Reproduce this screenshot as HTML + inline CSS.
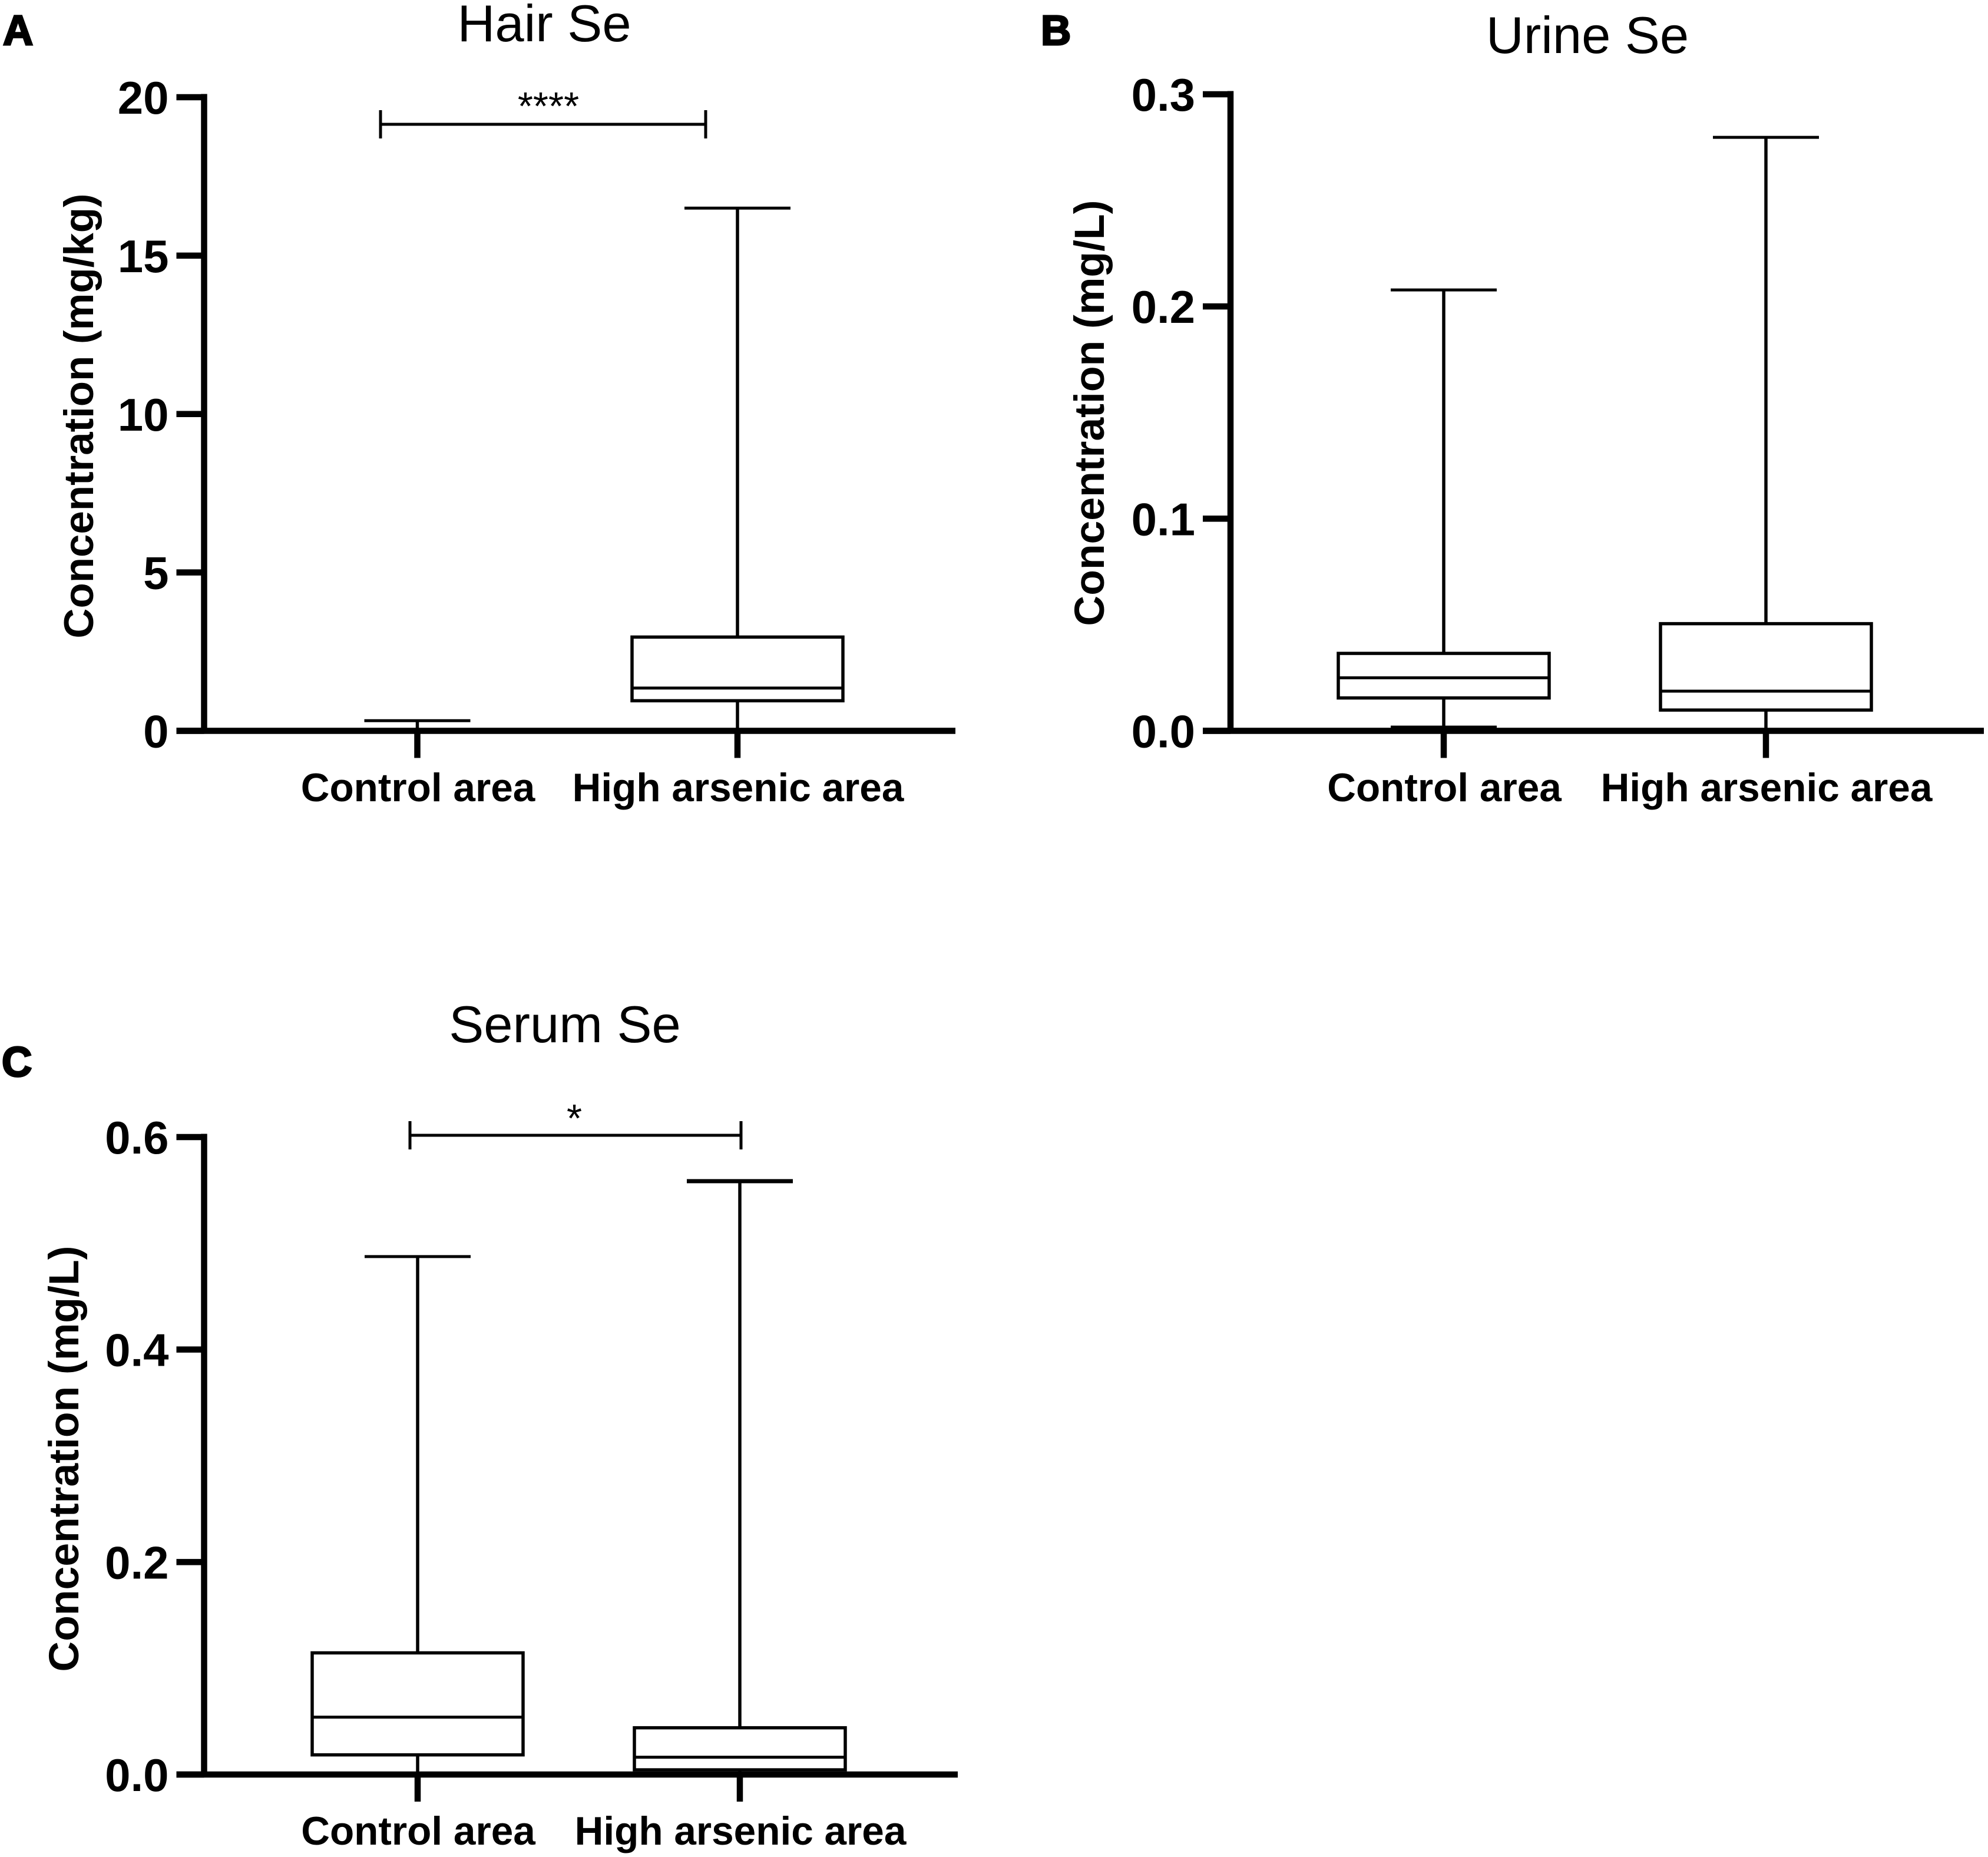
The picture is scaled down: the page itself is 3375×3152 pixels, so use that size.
<!DOCTYPE html>
<html lang="en">
<head>
<meta charset="utf-8">
<title>Selenium concentration box plots</title>
<style>
html,body{margin:0;padding:0;background:#fff;}
svg{display:block;font-family:"Liberation Sans",Arial,sans-serif;}
</style>
</head>
<body>
<svg id="figure" xmlns="http://www.w3.org/2000/svg" width="3375" height="3152" viewBox="0 0 3375 3152">
  <rect x="0" y="0" width="3375" height="3152" fill="#ffffff"/>
</svg>
<script>
const categories = ['Control area', 'High arsenic area'];

const hairTicks = [0, 5, 10, 15, 20];
const hairTickLabels = ['0', '5', '10', '15', '20'];
const hairMin = [0, 0];
const hairQ1 = [0.01, 0.95];
const hairMedian = [0.02, 1.35];
const hairQ3 = [0.04, 2.96];
const hairMax = [0.32, 16.5];

const urineTicks = [0, 0.1, 0.2, 0.3];
const urineTickLabels = ['0.0', '0.1', '0.2', '0.3'];
const urineMin = [0.0015, 0];
const urineQ1 = [0.0155, 0.0098];
const urineMedian = [0.025, 0.0187];
const urineQ3 = [0.0365, 0.0505];
const urineMax = [0.2078, 0.2797];

const serumTicks = [0, 0.2, 0.4, 0.6];
const serumTickLabels = ['0.0', '0.2', '0.4', '0.6'];
const serumMin = [0, 0];
const serumQ1 = [0.0185, 0.0044];
const serumMedian = [0.054, 0.0163];
const serumQ3 = [0.1145, 0.044];
const serumMax = [0.4875, 0.5585];

const svgNS = 'http://www.w3.org/2000/svg';
const root = document.getElementById('figure');

function make(tag, attrs, name, parent) {
  const el = document.createElementNS(svgNS, tag);
  for (const key in attrs) el.setAttribute(key, attrs[key]);
  
  
  parent.appendChild(el);
  return el;
}

function line(x1, y1, x2, y2, width, name, parent) {
  return make('line', {x1: x1, y1: y1, x2: x2, y2: y2, stroke: '#000', 'stroke-width': width}, name, parent);
}

function label(str, x, y, size, weight, anchor, name, parent, extra) {
  const attrs = {x: x, y: y, 'font-size': size, 'font-weight': weight, 'text-anchor': anchor, fill: '#000'};
  for (const key in (extra || {})) attrs[key] = extra[key];
  const el = make('text', attrs, name, parent);
  el.textContent = str;
  return el;
}

function drawPanel(p, ticks, tickLabels, mins, q1s, medians, q3s, maxes) {
  const g = make('g', {}, p.id + '-panel', root);
  const vMax = ticks[ticks.length - 1];
  const yScale = function (v) { return p.yZero - (v / vMax) * (p.yZero - p.yTop); };
  const xScale = function (i) { return p.xFirst + i * (p.xSecond - p.xFirst); };

  label(p.letter, p.letterX, p.letterY, 71, 'bold', 'start', p.id + '-panel-letter', g, {stroke: '#000', 'stroke-width': 3});
  label(p.title, p.titleX, p.titleY, 88.5, 'normal', 'middle', p.id + '-chart-title', g);

  categories.forEach(function (cat, i) {
    const cx = xScale(i);
    const slug = i === 0 ? 'control' : 'high-arsenic';
    const box = make('g', {}, p.id + '-box-' + slug, g);
    const yMax = yScale(maxes[i]);
    const yMin = yScale(mins[i]);
    const yQ1 = yScale(q1s[i]);
    const yQ3 = yScale(q3s[i]);
    const yMed = yScale(medians[i]);
    line(cx, yMax, cx, yQ3, 5.5, 'upper-whisker', box);
    line(cx, yQ1, cx, yMin, 5.5, 'lower-whisker', box);
    line(cx - 90, yMax, cx + 90, yMax, p.maxCapWidth[i], 'max-cap', box);
    line(cx - 90, yMin, cx + 90, yMin, p.minCapWidth[i], 'min-cap', box);
    make('rect', {x: cx - 179, y: yQ3, width: 358, height: yQ1 - yQ3, fill: 'none', stroke: '#000', 'stroke-width': 5.5}, 'interquartile-box', box);
    line(cx - 179, yMed, cx + 179, yMed, 5, 'median-line', box);
  });

  const yAxis = make('g', {}, p.id + '-y-axis', g);
  line(p.xAxis, p.yTop - 5.5, p.xAxis, p.yZero, 10.5, 'y-axis-line', yAxis);
  ticks.forEach(function (t, i) {
    const y = yScale(t);
    line(p.xAxis - 47, y, p.xAxis, y, 10.5, 'y-tick', yAxis);
    label(tickLabels[i], p.xAxis - 60, y + 28, 78, 'bold', 'end', 'y-tick-label', yAxis);
  });
  label(p.yTitle, 0, 0, p.yTitleSize, 'bold', 'middle', p.id + '-y-axis-title', yAxis, {
    transform: 'translate(' + p.yTitleX + ',' + p.yTitleY + ') rotate(-90)'
  });

  const xAxis = make('g', {}, p.id + '-x-axis', g);
  line(p.xAxis - 47, p.yZero, p.xAxisEnd, p.yZero, 10.5, 'x-axis-line', xAxis);
  categories.forEach(function (cat, i) {
    const cx = xScale(i);
    line(cx, p.yZero, cx, p.yZero + 46, 10.5, 'x-tick', xAxis);
    label(cat, cx + 1, p.xLabelY, 67.5, 'bold', 'middle', 'x-tick-label', xAxis);
  });

  if (p.bracket) {
    const b = make('g', {}, p.id + '-significance-bracket', g);
    line(p.bracket.x1, p.bracket.y, p.bracket.x2, p.bracket.y, 5, 'bracket-bar', b);
    line(p.bracket.x1, p.bracket.y - 24, p.bracket.x1, p.bracket.y + 24, 5, 'bracket-left-end', b);
    line(p.bracket.x2, p.bracket.y - 24, p.bracket.x2, p.bracket.y + 24, 5, 'bracket-right-end', b);
    label(p.bracket.text, p.bracket.textX, p.bracket.textY, 67, 'normal', 'middle', 'significance-stars', b);
  }
}

drawPanel({
  id: 'hair', letter: 'A', letterX: 5, letterY: 76, title: 'Hair Se', titleX: 924, titleY: 70,
  xAxis: 346.5, xAxisEnd: 1622, yZero: 1240.5, yTop: 165, xFirst: 708.5, xSecond: 1252, xLabelY: 1360,
  yTitle: 'Concentration (mg/kg)', yTitleSize: 70.8, yTitleX: 158, yTitleY: 706,
  maxCapWidth: [5, 5], minCapWidth: [5, 5],
  bracket: {x1: 646, x2: 1198, y: 211, text: '****', textX: 931, textY: 203}
}, hairTicks, hairTickLabels, hairMin, hairQ1, hairMedian, hairQ3, hairMax);

drawPanel({
  id: 'urine', letter: 'B', letterX: 1767, letterY: 76, title: 'Urine Se', titleX: 2695, titleY: 90,
  xAxis: 2089, xAxisEnd: 3368, yZero: 1240.5, yTop: 160, xFirst: 2451, xSecond: 2998, xLabelY: 1360,
  yTitle: 'Concentration (mg/L)', yTitleSize: 71.5, yTitleX: 1874, yTitleY: 701,
  maxCapWidth: [5, 5], minCapWidth: [7, 5]
}, urineTicks, urineTickLabels, urineMin, urineQ1, urineMedian, urineQ3, urineMax);

drawPanel({
  id: 'serum', letter: 'C', letterX: 3, letterY: 1827, title: 'Serum Se', titleX: 959, titleY: 1769,
  xAxis: 346.5, xAxisEnd: 1626, yZero: 3012, yTop: 1930, xFirst: 709, xSecond: 1256, xLabelY: 3131,
  yTitle: 'Concentration (mg/L)', yTitleSize: 71.5, yTitleX: 133, yTitleY: 2476,
  maxCapWidth: [5, 7], minCapWidth: [5, 5],
  bracket: {x1: 696, x2: 1258, y: 1927, text: '*', textX: 975, textY: 1921}
}, serumTicks, serumTickLabels, serumMin, serumQ1, serumMedian, serumQ3, serumMax);
</script>
</body>
</html>
